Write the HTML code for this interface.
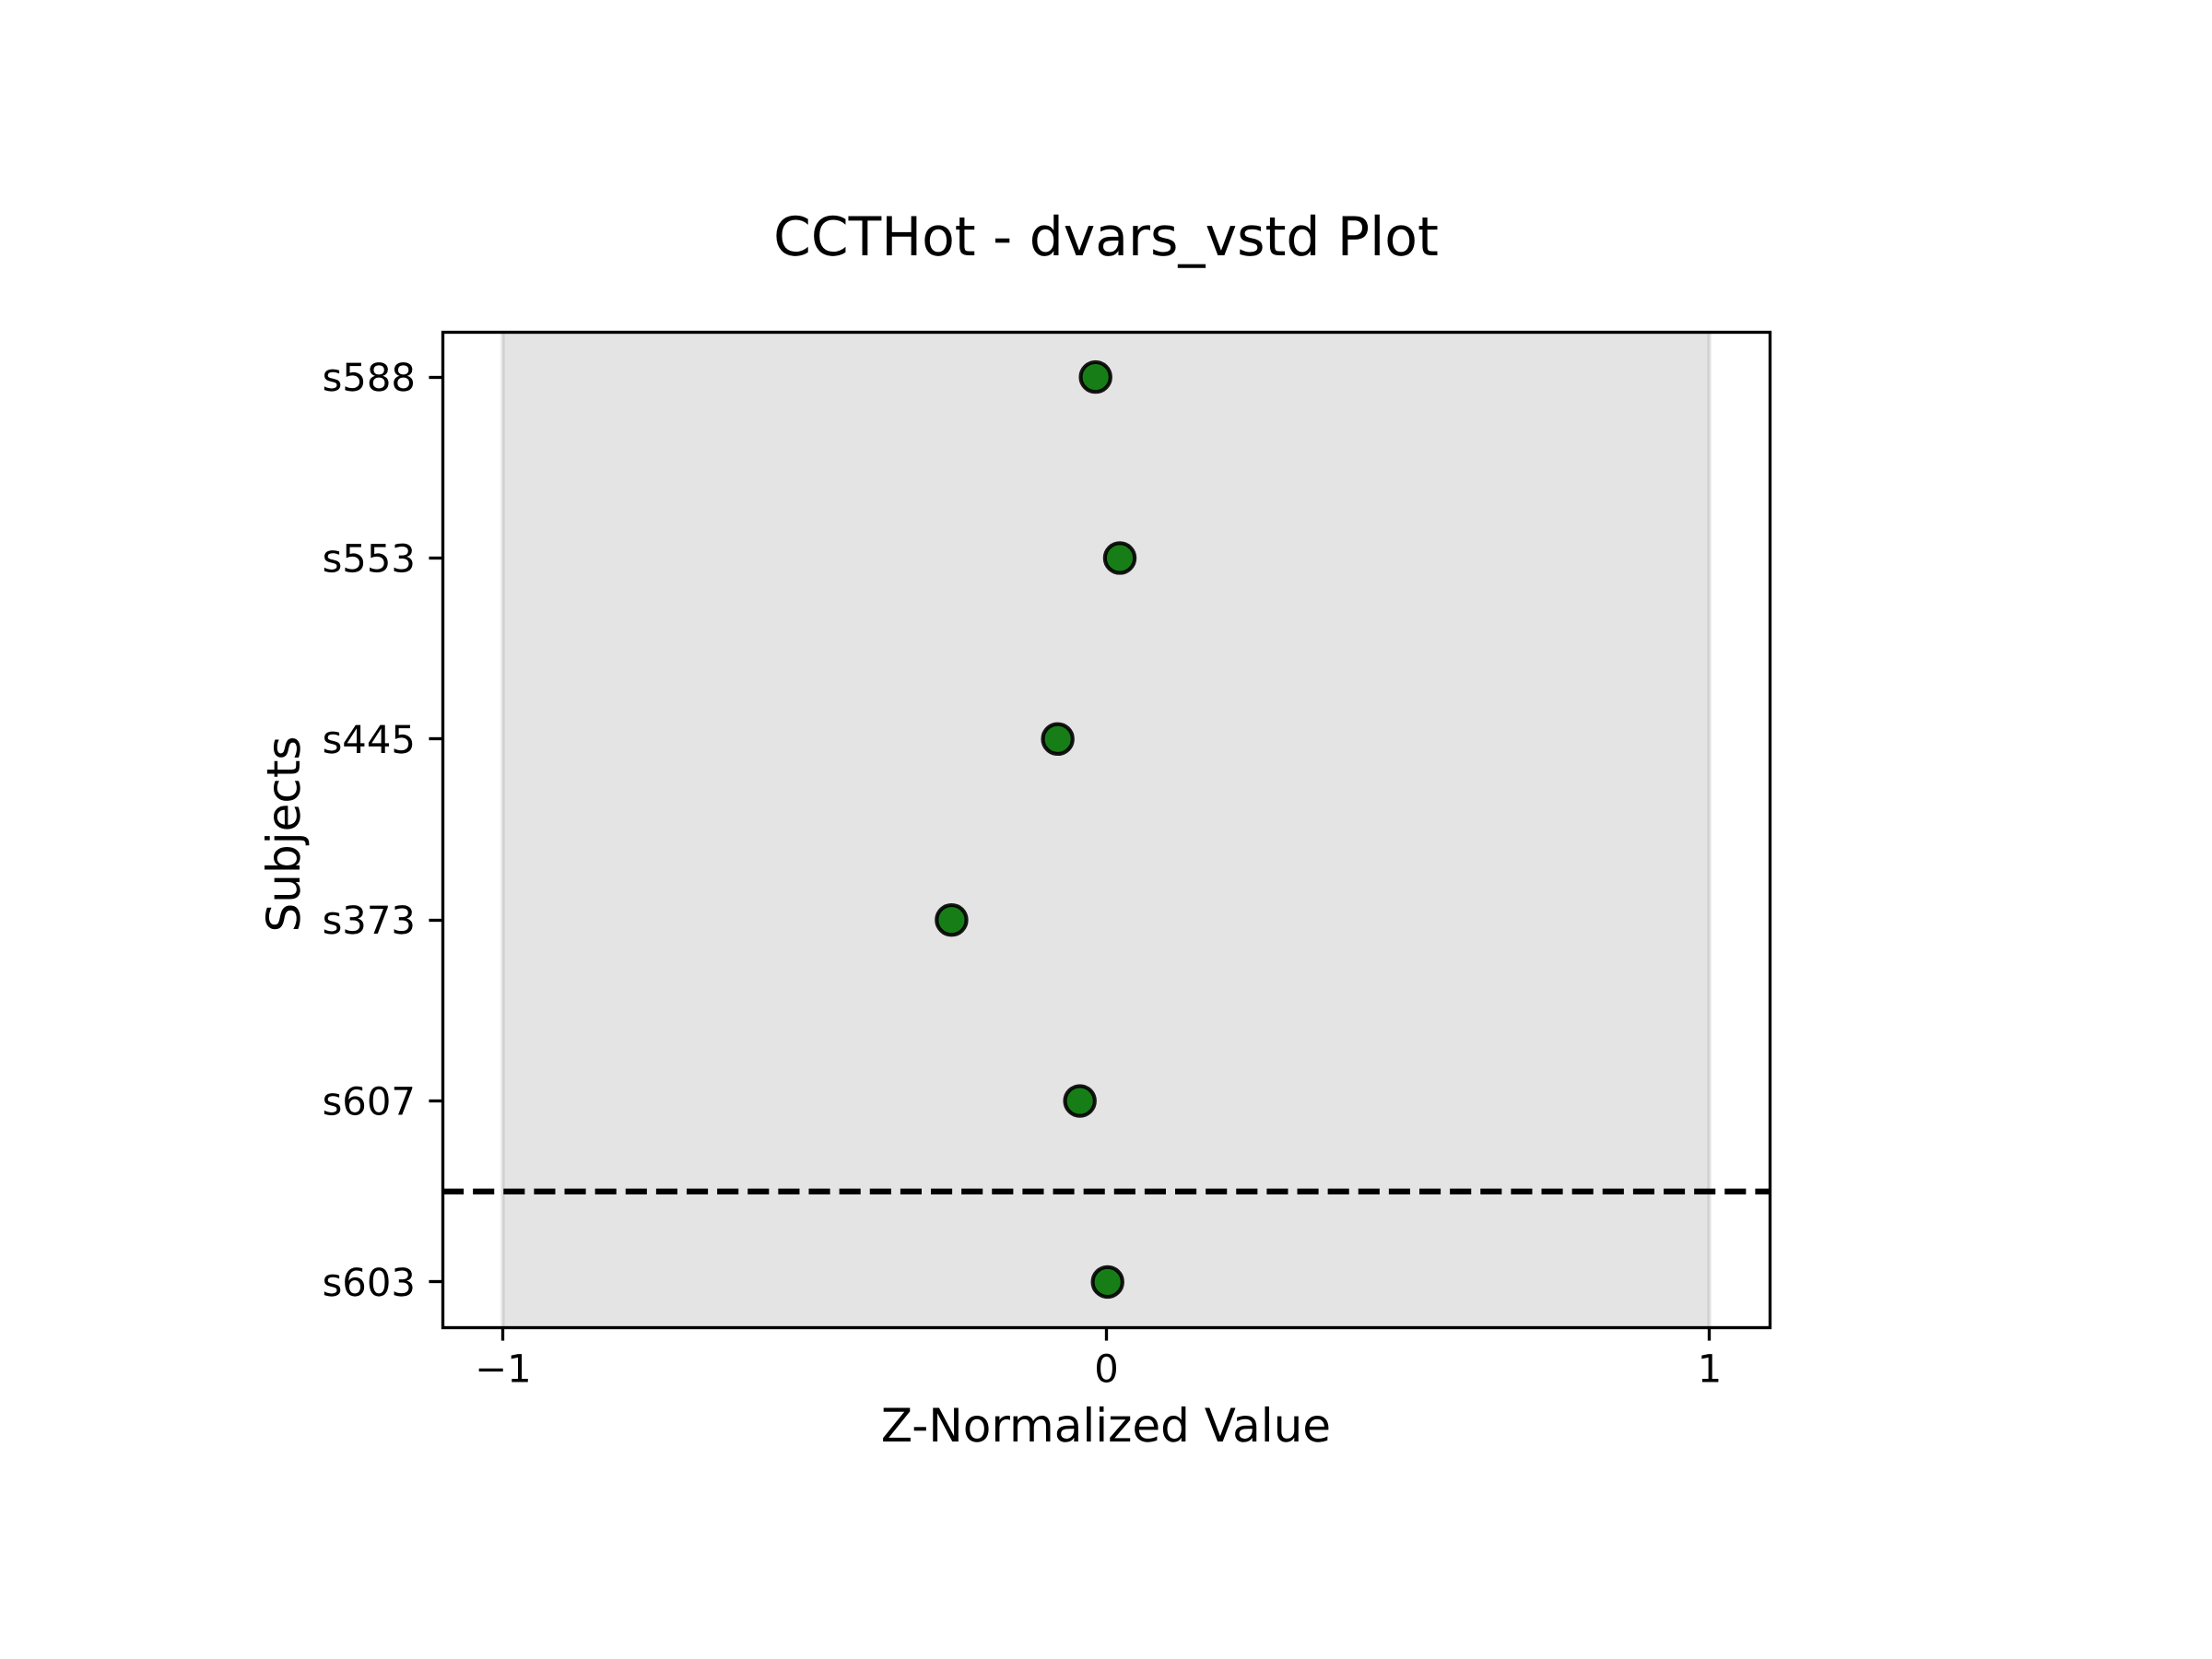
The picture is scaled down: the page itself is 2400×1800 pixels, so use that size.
<!DOCTYPE html>
<html lang="en">
<head>
<meta charset="utf-8">
<title>CCTHot - dvars_vstd Plot</title>
<style>
  html, body { margin: 0; padding: 0; background: #ffffff; }
  svg { display: block; }
  text { font-family: "DejaVu Sans", "Liberation Sans", sans-serif; fill: #000000; text-rendering: geometricPrecision; }
</style>
</head>
<body>
<svg id="chart" xmlns="http://www.w3.org/2000/svg" width="2400" height="1800" viewBox="0 0 2400 1800">
  <rect x="0" y="0" width="2400" height="1800" fill="#ffffff"/>
  <defs>
    <clipPath id="axes-clip"><rect x="480" y="360" width="1440" height="1080"/></clipPath>
  </defs>
  <g id="plot-area" clip-path="url(#axes-clip)"></g>
  <g id="axes-layer"></g>
  <text x="1200" y="277" font-size="58.33" text-anchor="middle">CCTHot - dvars_vstd Plot</text>
  <text x="1200" y="1564" font-size="50" text-anchor="middle">Z-Normalized Value</text>
  <text x="325" y="905" font-size="50" text-anchor="middle" transform="rotate(-90 325 905)">Subjects</text>
</svg>
<script>
// Chart data, bottom-to-top category order
const categories = ['s603', 's607', 's373', 's445', 's553', 's588'];
const values = [0.0026, -0.0433, -0.256, -0.08, 0.0229, -0.0173];
const xTicks = [-1, 0, 1];
const xTickLabels = ['\u22121', '0', '1'];
const bandRange = [-1, 1];
const separatorIndex = 0.5;
const xDomain = [-1.1, 1.1];
const yDomain = [-0.25, 5.25];

const NS = 'http://www.w3.org/2000/svg';
const box = { left: 480, right: 1920, top: 360, bottom: 1440 };
const PT = 300 / 72;

function xScale(v) {
  return box.left + (v - xDomain[0]) / (xDomain[1] - xDomain[0]) * (box.right - box.left);
}
function yScale(v) {
  return box.bottom - (v - yDomain[0]) / (yDomain[1] - yDomain[0]) * (box.bottom - box.top);
}
function snap(v) {
  return Math.floor(v) + 0.5;
}
function make(tag, attrs, parent) {
  const el = document.createElementNS(NS, tag);
  for (const k in attrs) el.setAttribute(k, attrs[k]);
  parent.appendChild(el);
  return el;
}

const plot = document.getElementById('plot-area');
const axes = document.getElementById('axes-layer');

// Normal-range band
const band = make('rect', {
  x: xScale(bandRange[0]),
  y: box.top - 20,
  width: xScale(bandRange[1]) - xScale(bandRange[0]),
  height: box.bottom - box.top + 40,
  fill: '#7a7a7a',
  'fill-opacity': 0.2,
  stroke: '#7a7a7a',
  'stroke-opacity': 0.2,
  'stroke-width': 1 * PT
}, plot);



// Group separator
const sep = make('line', {
  x1: box.left,
  x2: box.right,
  y1: yScale(separatorIndex),
  y2: yScale(separatorIndex),
  stroke: '#000000',
  'stroke-width': 1.5 * PT,
  'stroke-dasharray': (3.7 * 1.5 * PT) + ' ' + (1.6 * 1.5 * PT)
}, plot);



// Points
categories.forEach(function (name, i) {
  const pt = make('circle', {
    cx: xScale(values[i]),
    cy: yScale(i),
    r: Math.sqrt(60) * PT / 2,
    fill: '#007200',
    'fill-opacity': 0.9,
    stroke: '#000000',
    'stroke-opacity': 0.9,
    'stroke-width': 1 * PT
  }, plot);
  
  
});

// Y ticks
categories.forEach(function (name, i) {
  const y = yScale(i);
  const tick = make('line', {
    x1: box.left, x2: box.left - 3.5 * PT, y1: snap(y), y2: snap(y),
    stroke: '#000000', 'stroke-width': 0.8 * PT
  }, axes);
  
  
  const label = make('text', {
    x: box.left - 7 * PT, y: y + 15, 'font-size': 10 * PT, 'text-anchor': 'end'
  }, axes);
  label.textContent = name;
  
  
});

// X ticks
xTicks.forEach(function (v, i) {
  const x = xScale(v);
  const tick = make('line', {
    x1: snap(x), x2: snap(x), y1: box.bottom, y2: box.bottom + 3.5 * PT,
    stroke: '#000000', 'stroke-width': 0.8 * PT
  }, axes);
  
  
  const label = make('text', {
    x: x + 0.5, y: 1499.5, 'font-size': 10 * PT, 'text-anchor': 'middle'
  }, axes);
  label.textContent = xTickLabels[i];
  
  
});

// Axes frame
const frame = make('rect', {
  x: box.left + 0.5, y: box.top + 0.5,
  width: box.right - box.left, height: box.bottom - box.top,
  fill: 'none', stroke: '#000000', 'stroke-width': 0.8 * PT,
  'stroke-linejoin': 'miter'
}, axes);


</script>
</body>
</html>
